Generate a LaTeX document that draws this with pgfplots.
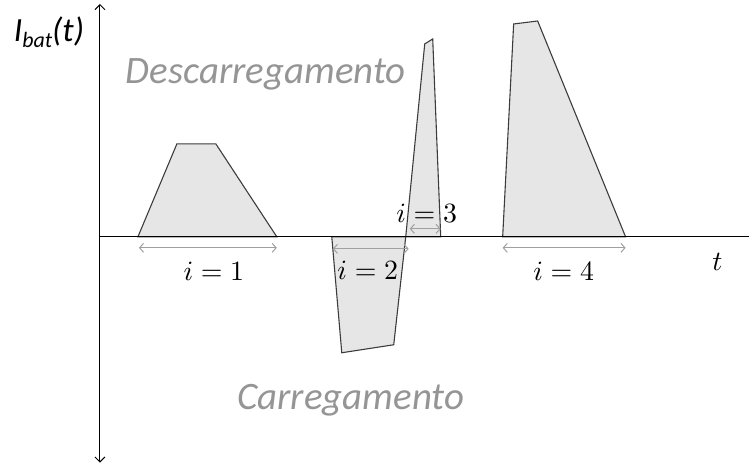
\documentclass[border=0pt]{standalone}
\usepackage{fontspec}
\usepackage{pgfplots}
\pgfplotsset{compat=1.18}
\usetikzlibrary{arrows.meta}
\newfontfamily\carlito{Carlito}
\definecolor{shapefill}{HTML}{E6E6E6}
\definecolor{shapedraw}{HTML}{3C3C3C}
\definecolor{arrgray}{HTML}{A0A0A0}
\definecolor{txtgray}{HTML}{959595}
\begin{document}
\begin{tikzpicture}
\begin{axis}[
  hide axis, scale only axis, width=749bp, height=470bp,
  xmin=0, xmax=749, ymin=0, ymax=470, clip=false,
]
\path (axis cs:0,0) rectangle (axis cs:749,470);
% shapes (y = 470 - pixel row)
\addplot[fill=shapefill, draw=shapedraw, line width=1.1pt] coordinates {(138,233) (177,326) (216,326) (277,233)} -- cycle;
\addplot[fill=shapefill, draw=shapedraw, line width=1.1pt] coordinates {(332,233) (342,117) (394,125) (406,233)} -- cycle;
\addplot[fill=shapefill, draw=shapedraw, line width=1.1pt] coordinates {(406,233) (425,426) (433,431) (441,233)} -- cycle;
\addplot[fill=shapefill, draw=shapedraw, line width=1.1pt] coordinates {(503,233) (514,446) (538,449) (626,233)} -- cycle;
% axes
\addplot[black, line width=1pt, {Straight Barb[length=5bp,width=10bp]}-{Straight Barb[length=5bp,width=10bp]}] coordinates {(100,7) (100,466)};
\addplot[black, line width=1pt] coordinates {(100,233) (749,233)};
% interval arrows
\addplot[arrgray, line width=1pt, {Straight Barb[length=4bp,width=9bp]}-{Straight Barb[length=4bp,width=9bp]}] coordinates {(139,222) (277,222)};
\addplot[arrgray, line width=1pt, {Straight Barb[length=4bp,width=9bp]}-{Straight Barb[length=4bp,width=9bp]}] coordinates {(333,221) (409,221)};
\addplot[arrgray, line width=1pt, {Straight Barb[length=4bp,width=9bp]}-{Straight Barb[length=4bp,width=9bp]}] coordinates {(410,241) (441,241)};
\addplot[arrgray, line width=1pt, {Straight Barb[length=4bp,width=9bp]}-{Straight Barb[length=4bp,width=9bp]}] coordinates {(503,222) (626,222)};
% labels
\node[scale=2.8] at (axis cs:214,199) {$i=1$};
\node[scale=2.8] at (axis cs:368,200) {$i=2$};
\node[scale=2.8] at (axis cs:427,257) {$i=3$};
\node[scale=2.8] at (axis cs:564,199) {$i=4$};
\node[scale=2.8] at (axis cs:718,208) {$t$};
\node[font=\fontsize{39}{42}\selectfont\carlito\itshape, text=txtgray] at (axis cs:266,396) {Descarregamento};
\node[font=\fontsize{39}{42}\selectfont\carlito\itshape, text=txtgray] at (axis cs:351,69) {Carregamento};
\node[font=\fontsize{34}{36}\selectfont\carlito\itshape] at (axis cs:49,438) {I\raisebox{-0.35ex}{\fontsize{22}{24}\selectfont bat}(t)};
\end{axis}
\end{tikzpicture}
\end{document}
